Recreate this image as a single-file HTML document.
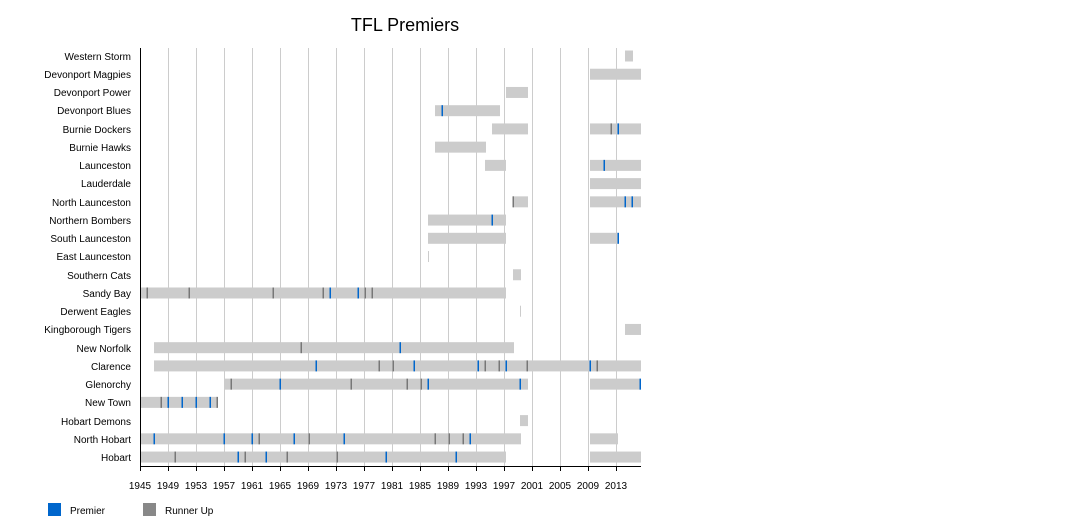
<!DOCTYPE html>
<html><head><meta charset="utf-8"><style>
body{margin:0;background:#fff;}
svg{display:block;font-family:"Liberation Sans",Arial,sans-serif;}
</style></head><body>
<svg id="s" width="1070" height="520" xmlns="http://www.w3.org/2000/svg">
<text x="405" y="31" font-size="18" text-anchor="middle" fill="#000">TFL Premiers</text>
<g id="grid"></g>
<g id="bars"></g>
<line x1="140.5" y1="48" x2="140.5" y2="467" stroke="#000" stroke-width="1"/>
<line x1="140" y1="466.5" x2="641" y2="466.5" stroke="#000" stroke-width="1"/>
<g font-size="10" text-anchor="end" fill="#000">
<text x="131" y="60">Western Storm</text>
<text x="131" y="78">Devonport Magpies</text>
<text x="131" y="96">Devonport Power</text>
<text x="131" y="114">Devonport Blues</text>
<text x="131" y="133">Burnie Dockers</text>
<text x="131" y="151">Burnie Hawks</text>
<text x="131" y="169">Launceston</text>
<text x="131" y="187">Lauderdale</text>
<text x="131" y="206">North Launceston</text>
<text x="131" y="224">Northern Bombers</text>
<text x="131" y="242">South Launceston</text>
<text x="131" y="260">East Launceston</text>
<text x="131" y="279">Southern Cats</text>
<text x="131" y="297">Sandy Bay</text>
<text x="131" y="315">Derwent Eagles</text>
<text x="131" y="333">Kingborough Tigers</text>
<text x="131" y="352">New Norfolk</text>
<text x="131" y="370">Clarence</text>
<text x="131" y="388">Glenorchy</text>
<text x="131" y="406">New Town</text>
<text x="131" y="425">Hobart Demons</text>
<text x="131" y="443">North Hobart</text>
<text x="131" y="461">Hobart</text>
</g>
<g font-size="10" text-anchor="middle" fill="#000">
<text x="140" y="489">1945</text><text x="168" y="489">1949</text><text x="196" y="489">1953</text><text x="224" y="489">1957</text><text x="252" y="489">1961</text><text x="280" y="489">1965</text><text x="308" y="489">1969</text><text x="336" y="489">1973</text><text x="364" y="489">1977</text><text x="392" y="489">1981</text><text x="420" y="489">1985</text><text x="448" y="489">1989</text><text x="476" y="489">1993</text><text x="504" y="489">1997</text><text x="532" y="489">2001</text><text x="560" y="489">2005</text><text x="588" y="489">2009</text><text x="616" y="489">2013</text>
</g>
<rect x="48" y="503" width="13" height="13" fill="#0066cc"/>
<text x="70" y="514" font-size="10">Premier</text>
<rect x="143" y="503" width="13" height="13" fill="#888"/>
<text x="165" y="514" font-size="10">Runner Up</text>
</svg>
<script>
var NS="http://www.w3.org/2000/svg";
function el(p,t,a){var e=document.createElementNS(NS,t);for(var k in a)e.setAttribute(k,a[k]);document.getElementById(p).appendChild(e);}
for(var i=0;i<18;i++){var x=140+i*28;if(i>0)el("grid","line",{x1:x+.5,y1:48,x2:x+.5,y2:466,stroke:"#ccc"});el("grid","line",{x1:x+.5,y1:466,x2:x+.5,y2:471,stroke:"#000"});}
var B="#0066cc",G="#777";
var rows=[
[[625,633]],[[590,641]],[[506,528]],[[435,500]],[[492,528],[590,641]],[[435,486]],[[485,506],[590,641]],[[590,641]],[[513,528],[590,641]],[[428,506]],[[428,506],[590,618]],[[428,429]],[[513,521]],[[140,506]],[[520,521]],[[625,641]],[[154,514]],[[154,641]],[[224,528],[590,641]],[[140,217]],[[520,528]],[[140,521],[590,618]],[[140,506],[590,641]]];
var marks={3:[[442,B]],4:[[611,G],[618,B]],6:[[604,B]],8:[[513,G],[625,B],[632,B]],9:[[492,B]],10:[[618,B]],
13:[[147,G],[189,G],[273,G],[323,G],[330,B],[358,B],[365,G],[372,G]],16:[[301,G],[400,B]],
17:[[316,B],[379,G],[393,G],[414,B],[478,B],[485,G],[499,G],[506,B],[527,G],[590,B],[597,G]],
18:[[231,G],[280,B],[351,G],[407,G],[421,G],[428,B],[520,B],[640,B]],
19:[[161,G],[168,B],[182,B],[196,B],[210,B],[217,G]],
21:[[154,B],[224,B],[252,B],[259,G],[294,B],[309,G],[344,B],[435,G],[449,G],[463,G],[470,B]],
22:[[175,G],[238,B],[245,G],[266,B],[287,G],[337,G],[386,B],[456,B]]};
rows.forEach(function(r,i){var y=56+i*18.23;r.forEach(function(s){el("bars","rect",{x:s[0],y:y-5.5,width:Math.max(1,s[1]-s[0]),height:11,fill:"#ccc"});});
(marks[i]||[]).forEach(function(m){el("bars","rect",{x:m[0]-0.5,y:y-5.5,width:1.5,height:11,fill:m[1]});});});
</script>
</body></html>
